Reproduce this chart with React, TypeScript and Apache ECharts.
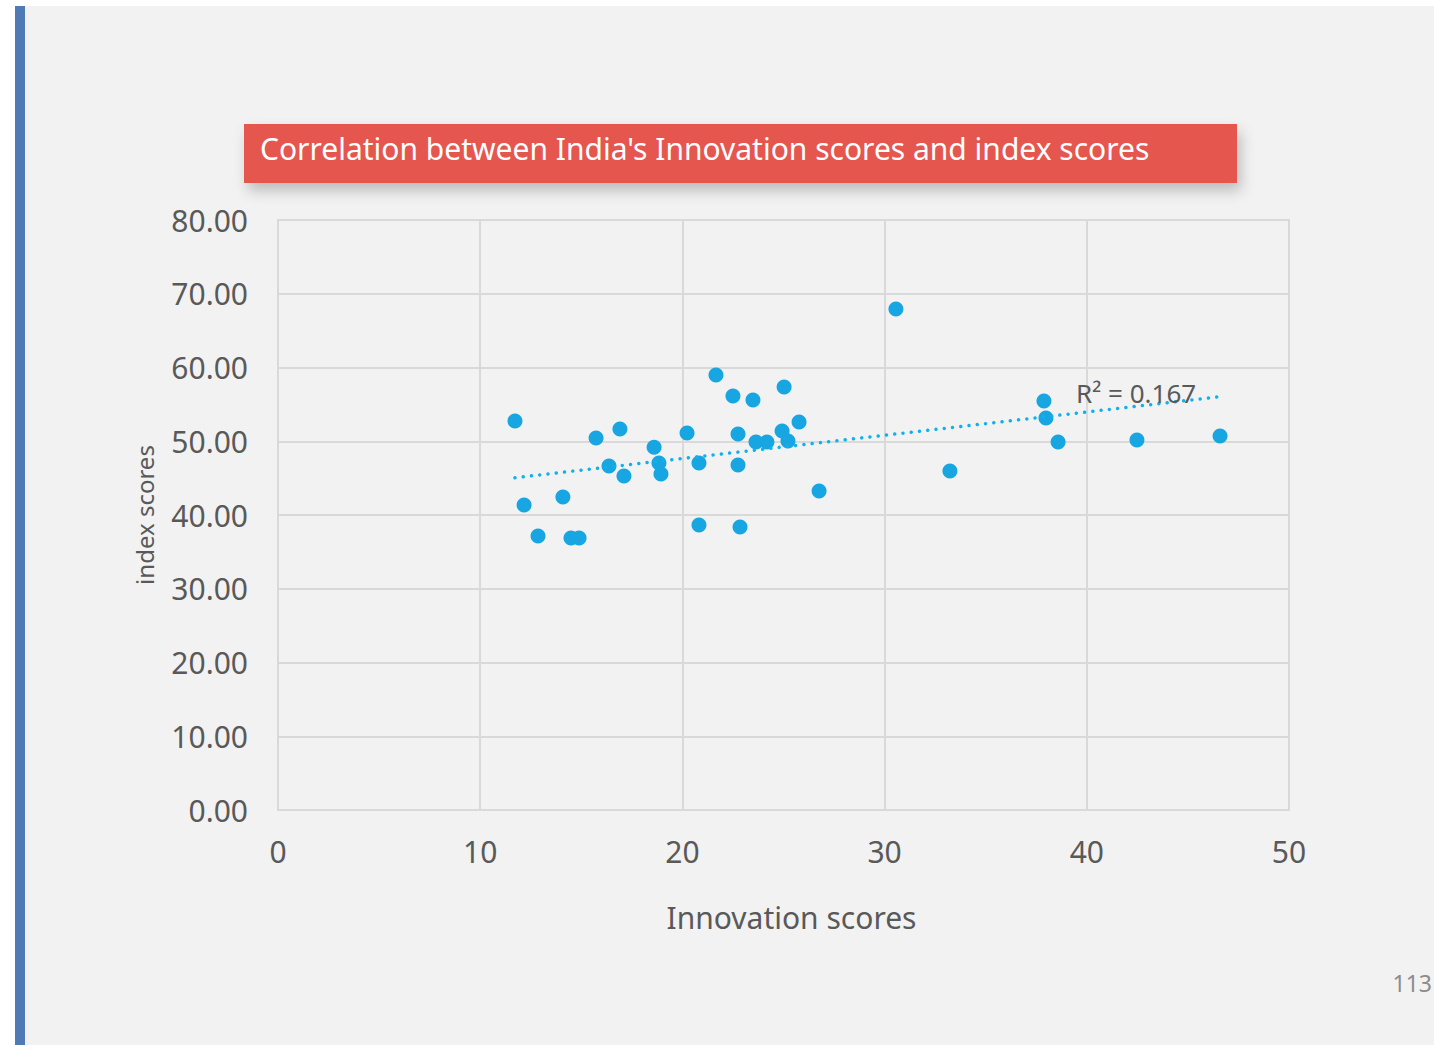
import React, { useEffect, useRef } from "react";
import * as echarts from "echarts";

const innovationScores = [
  11.72, 12.17, 12.86, 14.09, 14.49, 14.89, 15.73, 16.37, 16.91, 17.11,
  18.6, 18.84, 18.94, 20.23, 20.82, 20.82, 21.66, 22.5, 22.75, 22.75,
  22.85, 23.49, 23.64, 24.18, 24.93, 25.03, 25.22, 25.77, 26.76, 30.56,
  33.23, 37.88, 37.98, 38.58, 42.48, 46.59,
];
const indexScores = [
  52.75, 41.36, 37.15, 42.44, 36.88, 36.88, 50.44, 46.64, 51.66, 45.29,
  49.2, 47.05, 45.56, 51.12, 47.05, 38.64, 58.98, 56.14, 50.98, 46.78,
  38.37, 55.59, 49.9, 49.9, 51.39, 57.36, 50.03, 52.61, 43.25, 67.93,
  45.97, 55.46, 53.15, 49.9, 50.17, 50.71,
];
const xTicks = [0, 10, 20, 30, 40, 50];
const yTicks = [0, 10, 20, 30, 40, 50, 60, 70, 80];
const titleText = "Correlation between India's Innovation scores and index scores";
const xName = "Innovation scores";
const yName = "index scores";
const r2Label = "R² = 0.167";
const pageNumber = "113";

function regression(xs: number[], ys: number[]) {
  const n = xs.length;
  const mx = xs.reduce((a, b) => a + b, 0) / n;
  const my = ys.reduce((a, b) => a + b, 0) / n;
  let sxy = 0, sxx = 0;
  for (let i = 0; i < n; i++) {
    sxy += (xs[i] - mx) * (ys[i] - my);
    sxx += (xs[i] - mx) * (xs[i] - mx);
  }
  const b = sxy / sxx;
  const a = my - b * mx;
  return { a, b };
}

export default function App() {
  const ref = useRef<HTMLDivElement>(null);
  useEffect(() => {
    if (!ref.current) return;
    const chart = echarts.init(ref.current, undefined, { renderer: "svg" });
    const pts = innovationScores.map((x, i) => [x, indexScores[i]]);
    const { a, b } = regression(innovationScores, indexScores);
    const xmin = Math.min(...innovationScores);
    const xmax = Math.max(...innovationScores);
    const trend = [
      [xmin, a + b * xmin],
      [xmax, a + b * xmax],
    ];
    const font = "'Noto Sans', sans-serif";
    chart.setOption({
      animation: false,
      backgroundColor: "#ffffff",
      graphic: [
        { type: "rect", left: 25, top: 6, shape: { width: 1409, height: 1039 }, style: { fill: "#f2f2f2" }, z: -10 },
        { type: "rect", left: 15, top: 6, shape: { width: 10, height: 1039 }, style: { fill: "#4f7ab5" }, z: -10 },
        {
          type: "rect",
          left: 244,
          top: 124,
          shape: { width: 993, height: 59 },
          style: { fill: "#e5574f", shadowBlur: 14, shadowOffsetX: 4, shadowOffsetY: 8, shadowColor: "rgba(0,0,0,0.22)" },
          z: 10,
        },
        {
          type: "text",
          left: 260,
          top: 133,
          style: { text: titleText, fill: "#ffffff", font: `30px ${font}` },
          z: 11,
        },
        {
          type: "text",
          left: 1076,
          top: 380,
          style: { text: r2Label, fill: "#595959", font: `26px ${font}` },
          z: 11,
        },
        {
          type: "text",
          right: 2,
          top: 971,
          style: { text: pageNumber, fill: "#8c8c8c", font: `23px ${font}` },
          z: 11,
        },
      ],
      grid: { left: 278, top: 220, width: 1011, height: 590, show: true, borderColor: "#d9d9d9", borderWidth: 2 },
      xAxis: {
        type: "value",
        min: xTicks[0],
        max: xTicks[xTicks.length - 1],
        interval: 10,
        name: xName,
        nameLocation: "middle",
        nameGap: 92,
        nameTextStyle: { color: "#595959", fontSize: 30, fontFamily: font, padding: [0, 0, 0, 16] },
        axisLine: { show: true, lineStyle: { color: "#d9d9d9", width: 2 } },
        axisTick: { show: false },
        axisLabel: { color: "#595959", fontSize: 30, fontFamily: font, margin: 26 },
        splitLine: { show: true, lineStyle: { color: "#d9d9d9", width: 2 } },
      },
      yAxis: {
        type: "value",
        min: yTicks[0],
        max: yTicks[yTicks.length - 1],
        interval: 10,
        name: yName,
        nameLocation: "middle",
        nameGap: 122,
        nameTextStyle: { color: "#595959", fontSize: 24, fontFamily: font },
        axisLine: { show: true, lineStyle: { color: "#d9d9d9", width: 2 } },
        axisTick: { show: false },
        axisLabel: { color: "#595959", fontSize: 30, fontFamily: font, margin: 30, formatter: (v: number) => v.toFixed(2) },
        splitLine: { show: true, lineStyle: { color: "#d9d9d9", width: 2 } },
      },
      series: [
        {
          type: "scatter",
          data: pts,
          symbolSize: 15,
          itemStyle: { color: "#18a6e2", opacity: 1 },
          z: 3,
        },
        {
          type: "line",
          data: trend,
          symbol: "none",
          lineStyle: { color: "#0fb0ee", width: 3.5, type: [0.01, 8.3], cap: "round" },
          z: 4,
        },
      ],
    });
    return () => chart.dispose();
  }, []);
  return <div ref={ref} style={{ position: "fixed", left: 0, top: 0, width: 1434, height: 1045 }} />;
}
